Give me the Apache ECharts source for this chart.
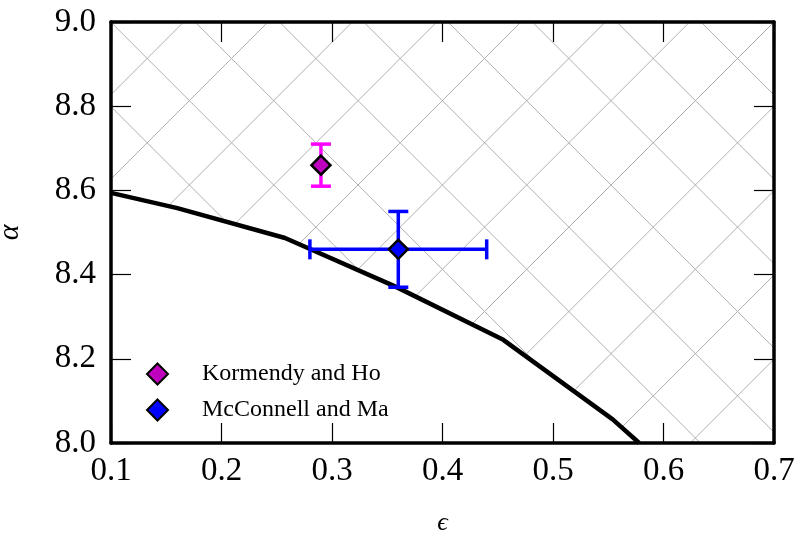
<!DOCTYPE html>
<html>
<head>
<meta charset="utf-8">
<script src="https://cdn.jsdelivr.net/npm/echarts@6/dist/echarts.min.js"></script>
<style>html,body{margin:0;padding:0;background:#fff;}#c{width:798px;height:538px;}</style>
</head>
<body>
<div id="c"></div>
<script>
// ---- data ----
var xTicks = [0.1, 0.2, 0.3, 0.4, 0.5, 0.6, 0.7];
var yTicks = [8.0, 8.2, 8.4, 8.6, 8.8, 9.0];
// boundary curve (epsilon, alpha)
var curveX = [0.1, 0.16, 0.2575, 0.357, 0.455, 0.554, 0.578];
var curveY = [8.594, 8.558, 8.487, 8.372, 8.245, 8.056, 8.0];
// Kormendy and Ho
var khX = [0.29];
var khY = [8.66];
var khYErr = [0.05];
// McConnell and Ma
var mmX = [0.36];
var mmY = [8.46];
var mmXErr = [0.08];
var mmYErr = [0.09];

var SERIF = '"Liberation Serif", "DejaVu Serif", serif';

// hatch pattern tile (3 periods of ~84.33px)
var T = 253, P = T / 3;
var cv = document.createElement('canvas');
cv.width = T; cv.height = T;
var cx = cv.getContext('2d');
cx.strokeStyle = '#b0b0b0';
cx.lineWidth = 1;
for (var k = -8; k <= 12; k++) {
  var c = 37 + P * k;
  cx.beginPath(); cx.moveTo(c - 600, 600); cx.lineTo(c + 600, -600); cx.stroke();
  var d = 4.4 + P * k;
  cx.beginPath(); cx.moveTo(d - 600, -600); cx.lineTo(d + 600, 600); cx.stroke();
}

var curveData = curveX.map(function (x, i) { return [x, curveY[i]]; });

function errSeries(name, xs, ys, xe, ye, color) {
  return {
    type: 'custom', name: name + '_err', z: 4, silent: true,
    data: xs.map(function (x, i) { return [x, ys[i], xe ? xe[i] : 0, ye ? ye[i] : 0]; }),
    renderItem: function (params, api) {
      var x = api.value(0), y = api.value(1), ex = api.value(2), ey = api.value(3);
      var ch = [];
      var st = { stroke: color, lineWidth: 3.5 };
      var cap = 10;
      if (ey > 0) {
        var t = api.coord([x, y + ey]), b = api.coord([x, y - ey]);
        ch.push({ type: 'line', shape: { x1: t[0], y1: t[1], x2: b[0], y2: b[1] }, style: st });
        ch.push({ type: 'line', shape: { x1: t[0] - cap, y1: t[1], x2: t[0] + cap, y2: t[1] }, style: st });
        ch.push({ type: 'line', shape: { x1: b[0] - cap, y1: b[1], x2: b[0] + cap, y2: b[1] }, style: st });
      }
      if (ex > 0) {
        var l = api.coord([x - ex, y]), r = api.coord([x + ex, y]);
        ch.push({ type: 'line', shape: { x1: l[0], y1: l[1], x2: r[0], y2: r[1] }, style: st });
        ch.push({ type: 'line', shape: { x1: l[0], y1: l[1] - cap, x2: l[0], y2: l[1] + cap }, style: st });
        ch.push({ type: 'line', shape: { x1: r[0], y1: r[1] - cap, x2: r[0], y2: r[1] + cap }, style: st });
      }
      return { type: 'group', children: ch };
    }
  };
}

var axisCommon = {
  type: 'value', z: 10,
  axisLine: { show: true, onZero: false, lineStyle: { color: '#000', width: 3.5 } },
  axisTick: { show: true, inside: true, length: 20, lineStyle: { color: '#000', width: 1.2 } },
  splitLine: { show: false }
};

var option = {
  backgroundColor: '#fff',
  animation: false,
  grid: { left: 111, right: 24, top: 22, bottom: 95, containLabel: false, outerBoundsMode: 'none' },
  legend: {
    orient: 'vertical', left: 146, top: 362, itemGap: 12,
    itemWidth: 21, itemHeight: 21, padding: 0,
    data: ['Kormendy and Ho', 'McConnell and Ma'],
    textStyle: { fontFamily: SERIF, fontSize: 24, color: '#000', padding: [0, 0, 0, 29] }
  },
  xAxis: [
    Object.assign({}, axisCommon, {
      min: 0.1, max: 0.7, interval: 0.1, position: 'bottom',
      name: 'ϵ', nameLocation: 'middle', nameGap: 67,
      nameTextStyle: { fontFamily: SERIF, fontSize: 26, fontStyle: 'italic', color: '#000' },
      axisLabel: { show: true, margin: 12, fontFamily: SERIF, fontSize: 33, color: '#000',
        formatter: function (v) { return v.toFixed(1); } }
    }),
    Object.assign({}, axisCommon, {
      min: 0.1, max: 0.7, interval: 0.1, position: 'top', axisLabel: { show: false }
    })
  ],
  yAxis: [
    Object.assign({}, axisCommon, {
      min: 8.0, max: 9.0, interval: 0.2, position: 'left',
      name: 'α', nameLocation: 'middle', nameGap: 86,
      nameTextStyle: { fontFamily: SERIF, fontSize: 30, fontStyle: 'italic', color: '#000' },
      axisLabel: { show: true, margin: 15, fontFamily: SERIF, fontSize: 33, color: '#000',
        formatter: function (v) { return v.toFixed(1); } }
    }),
    Object.assign({}, axisCommon, {
      min: 8.0, max: 9.0, interval: 0.2, position: 'right', axisLabel: { show: false }
    })
  ],
  series: [
    {
      type: 'custom', name: 'hatch', z: 1, silent: true,
      data: [[0.1, 9.0]],
      renderItem: function (params, api) {
        var pts = curveData.map(function (p) { return api.coord(p); });
        pts.push(api.coord([0.7, 8.0]));
        pts.push(api.coord([0.7, 9.0]));
        pts.push(api.coord([0.1, 9.0]));
        return {
          type: 'polygon', shape: { points: pts },
          style: { fill: { image: cv, repeat: 'repeat' }, stroke: null }
        };
      }
    },
    {
      type: 'line', name: 'curve', z: 3, data: curveData, showSymbol: false, symbol: 'none',
      lineStyle: { color: '#000', width: 4.5 }, clip: true, silent: true
    },
    errSeries('Kormendy and Ho', khX, khY, null, khYErr, '#ff00ff'),
    errSeries('McConnell and Ma', mmX, mmY, mmXErr, mmYErr, '#0000ff'),
    {
      type: 'scatter', name: 'Kormendy and Ho', z: 5, symbol: 'diamond', symbolSize: 19,
      data: khX.map(function (x, i) { return [x, khY[i]]; }),
      itemStyle: { color: '#bf00bf', borderColor: '#000', borderWidth: 2.5, opacity: 1 }
    },
    {
      type: 'scatter', name: 'McConnell and Ma', z: 5, symbol: 'diamond', symbolSize: 19,
      data: mmX.map(function (x, i) { return [x, mmY[i]]; }),
      itemStyle: { color: '#0000ff', borderColor: '#000', borderWidth: 2.5, opacity: 1 }
    }
  ]
};

var chart = echarts.init(document.getElementById('c'), null, { renderer: 'canvas' });
chart.setOption(option);
</script>
</body>
</html>
